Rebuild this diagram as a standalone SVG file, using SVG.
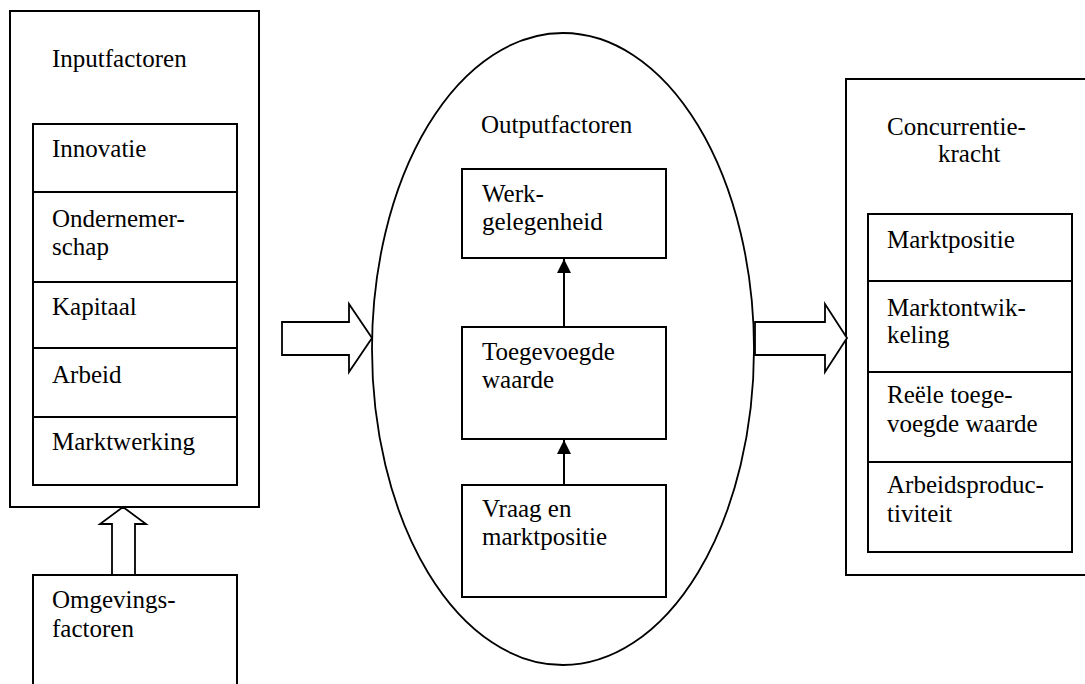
<svg xmlns="http://www.w3.org/2000/svg" width="1085" height="684" viewBox="0 0 1085 684">
<style>
.b{fill:#fff;stroke:#000;stroke-width:2}
.l{stroke:#000;stroke-width:2;fill:none}
.ba{fill:#fff;stroke:#000;stroke-width:1.8;stroke-linejoin:miter}
text{font-family:"Liberation Serif","Times New Roman","DejaVu Serif",serif;font-size:25px;fill:#000}
</style>
<defs>
<marker id="ah" markerWidth="14" markerHeight="14" refX="14" refY="7" orient="auto" markerUnits="userSpaceOnUse">
<path d="M0,0 L14,7 L0,14 Z" fill="#000"/>
</marker>
</defs>
<rect width="1085" height="684" fill="#fff"/>

<g id="inputfactoren" font-family="Liberation Serif, Times New Roman, serif" font-size="25">
<rect class="b" x="10" y="11" width="249" height="496"/>
<text x="52" y="67">Inputfactoren</text>
<rect class="b" x="33" y="124" width="204" height="361"/>
<line class="l" x1="33" y1="192" x2="237" y2="192"/>
<line class="l" x1="33" y1="282" x2="237" y2="282"/>
<line class="l" x1="33" y1="348" x2="237" y2="348"/>
<line class="l" x1="33" y1="417" x2="237" y2="417"/>
<text x="52" y="157">Innovatie</text>
<text x="52" y="227">Ondernemer-</text>
<text x="52" y="255">schap</text>
<text x="52" y="315">Kapitaal</text>
<text x="52" y="383">Arbeid</text>
<text x="52" y="450">Marktwerking</text>
</g>

<g id="omgevingsfactoren">
<rect class="b" x="33" y="575" width="204" height="120"/>
<text x="52" y="608">Omgevings-</text>
<text x="52" y="637">factoren</text>
</g>

<g id="outputfactoren">
<ellipse cx="563" cy="349" rx="191" ry="316" fill="#fff" stroke="#000" stroke-width="1.8"/>
<text x="481" y="133">Outputfactoren</text>
</g>

<g id="werkgelegenheid">
<rect class="b" x="462" y="169" width="204" height="89"/>
<text x="482" y="202">Werk-</text>
<text x="482" y="230">gelegenheid</text>
</g>

<g id="toegevoegde-waarde">
<rect class="b" x="462" y="327" width="204" height="112"/>
<text x="482" y="360">Toegevoegde</text>
<text x="482" y="388">waarde</text>
</g>

<g id="vraag-marktpositie">
<rect class="b" x="462" y="485" width="204" height="112"/>
<text x="482" y="517">Vraag en</text>
<text x="482" y="545">marktpositie</text>
</g>

<g id="concurrentiekracht">
<rect class="b" x="846" y="79" width="250" height="496"/>
<text x="887" y="135">Concurrentie-</text>
<text x="938" y="162">kracht</text>
<rect class="b" x="868" y="214" width="204" height="338"/>
<line class="l" x1="868" y1="281" x2="1072" y2="281"/>
<line class="l" x1="868" y1="372" x2="1072" y2="372"/>
<line class="l" x1="868" y1="462" x2="1072" y2="462"/>
<text x="887" y="248">Marktpositie</text>
<text x="887" y="316">Marktontwik-</text>
<text x="887" y="343">keling</text>
<text x="887" y="403">Reële toege-</text>
<text x="887" y="432">voegde waarde</text>
<text x="887" y="493">Arbeidsproduc-</text>
<text x="887" y="522">tiviteit</text>
</g>

<g id="connectors">
<polygon class="ba" points="282,322 349,322 349,304 372,338 349,372 349,355 282,355"/>
<polygon class="ba" points="755,322 825,322 825,304 847,338 825,372 825,355 755,355"/>
<polygon class="ba" points="112,575 112,524 100,524 123,507 146,524 135,524 135,575"/>
<line class="l" x1="564" y1="327" x2="564" y2="259" marker-end="url(#ah)"/>
<line class="l" x1="564" y1="485" x2="564" y2="440" marker-end="url(#ah)"/>
</g>
</svg>
